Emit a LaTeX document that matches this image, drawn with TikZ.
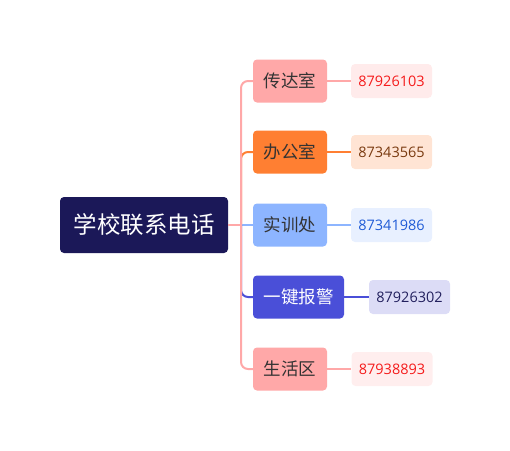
\documentclass[tikz,border=0pt]{standalone}
\usepackage{fontspec}
\setmainfont{Noto Sans CJK SC}
\newfontfamily\numfont{Open Sans}
\usetikzlibrary{positioning}
\definecolor{rootbg}{HTML}{1B1858}
\definecolor{pinkbg}{HTML}{FFA8A8}
\definecolor{orangebg}{HTML}{FF7F32}
\definecolor{bluebg}{HTML}{8DB5FF}
\definecolor{indigobg}{HTML}{4A4FD8}
\definecolor{txt}{HTML}{333333}
\tikzset{
  topic/.style={rounded corners=4pt,minimum height=43pt,minimum width=74pt,inner sep=0pt,
    font=\fontsize{17.5}{17.5}\selectfont,text=txt},
  phone/.style={rounded corners=4pt,minimum height=34pt,minimum width=81pt,inner sep=0pt,
    font=\numfont\fontsize{14.5}{14.5}\selectfont},
  branch/.style={line width=2pt,rounded corners=7pt}
}
\begin{document}
\begin{tikzpicture}[x=1pt,y=-1pt]
  \useasboundingbox (0,0) rectangle (510,450);
  \node[fill=rootbg,rounded corners=4pt,minimum width=168pt,minimum height=56pt,inner sep=0pt,
    text=white,font=\fontsize{23.5}{23.5}\selectfont] (root) at (144,225) {学校联系电话};
  % topics
  \node[topic,fill=pinkbg] (chuanda) at (290,81) {传达室};
  \node[topic,fill=orangebg] (bangong) at (290,152) {办公室};
  \node[topic,fill=bluebg] (shixun) at (290,225) {实训处};
  \node[topic,fill=indigobg,minimum width=91pt,text=white] (baojing) at (298.5,297) {一键报警};
  \node[topic,fill=pinkbg] (shenghuo) at (290,369) {生活区};
  % numbers
  \node[phone,fill={rgb,255:red,255;green,235;blue,235},text={rgb,255:red,245;green,27;blue,27}] (p1) at (391.5,81) {87926103};
  \node[phone,fill={rgb,255:red,255;green,228;blue,212},text={rgb,255:red,122;green,58;blue,16}] (p2) at (391.5,152) {87343565};
  \node[phone,fill={rgb,255:red,232;green,240;blue,255},text={rgb,255:red,31;green,91;blue,214}] (p3) at (391.5,225) {87341986};
  \node[phone,fill={rgb,255:red,220;green,220;blue,246},text={rgb,255:red,34;green,32;blue,94}] (p4) at (409.5,297) {87926302};
  \node[phone,fill={rgb,255:red,255;green,238;blue,238},text={rgb,255:red,245;green,27;blue,27}] (p5) at (392,369) {87938893};
  % branches
  \coordinate (hub) at (241,225);
  \draw[branch,orangebg] (hub) |- (bangong.west);
  \draw[branch,bluebg] (hub) -- (shixun.west);
  \draw[branch,indigobg] (hub) |- (baojing.west);
  \draw[branch,pinkbg] (hub) |- (chuanda.west);
  \draw[branch,pinkbg] (hub) |- (shenghuo.west);
  \draw[line width=2pt,pinkbg] (root.east) -- (hub);
  \draw[line width=2pt,pinkbg] (chuanda) -- (p1);
  \draw[line width=2pt,orangebg] (bangong) -- (p2);
  \draw[line width=2pt,bluebg] (shixun) -- (p3);
  \draw[line width=2pt,indigobg] (baojing) -- (p4);
  \draw[line width=2pt,pinkbg] (shenghuo) -- (p5);
\end{tikzpicture}
\end{document}
